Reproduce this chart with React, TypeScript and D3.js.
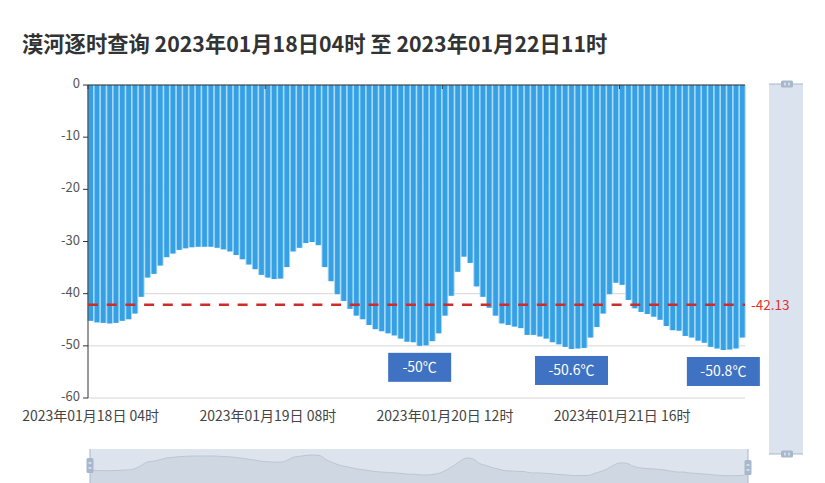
import * as d3 from "d3";
import React from "react";

// 漠河逐时气温 (℃)，2023-01-18 04时 起，每小时一条
const temps: number[] = [
  -45.2, -45.5, -45.6, -45.7, -45.6, -45.2, -44.9, -43.8, -40.6, -36.9,
  -36.2, -34.6, -33.0, -32.3, -31.6, -31.3, -31.1, -31.0, -31.0, -31.0,
  -31.2, -31.5, -31.9, -32.6, -33.4, -34.4, -35.3, -36.4, -36.9, -37.2,
  -37.1, -34.9, -31.9, -31.2, -30.3, -30.1, -30.7, -34.9, -37.6, -40.1,
  -41.4, -42.9, -44.2, -44.9, -46.0, -46.8, -47.2, -47.6, -48.0, -48.6,
  -49.2, -49.3, -50.0, -49.9, -49.1, -47.6, -44.2, -40.4, -35.8, -32.9,
  -34.1, -38.6, -40.6, -42.7, -44.2, -45.7, -46.0, -46.3, -46.6, -47.9,
  -47.9, -48.2, -48.6, -49.3, -49.7, -50.2, -50.6, -50.5, -50.4, -48.4,
  -46.4, -43.8, -40.1, -37.9, -38.3, -41.2, -42.8, -43.5, -43.9, -44.4,
  -45.0, -46.2, -47.0, -47.1, -48.1, -48.4, -49.0, -49.4, -50.2, -50.5,
  -50.8, -50.7, -50.5, -48.4,
];

const startTime = new Date(2023, 0, 18, 4);
const fmtHour = d3.timeFormat("%Y年%m月%d日 %H时");
const categories: string[] = temps.map((_, i) => fmtHour(d3.timeHour.offset(startTime, i)));
const labelEvery = 28;
const yTicks = [0, -10, -20, -30, -40, -50, -60];
const avgValue = -42.13;
const markIndex = [52, 76, 100];
const title = "漠河逐时查询 2023年01月18日04时 至 2023年01月22日11时";

const W = 825;
const H = 483;
const font = "'Noto Sans CJK SC', 'Noto Sans', sans-serif";

const Handle = ({ x, y, vertical }: { x: number; y: number; vertical: boolean }) =>
  vertical ? (
    <g>
      <rect x={x - 3.5} y={y} width={7} height={15} rx={1.5} fill="#a7b7cc" />
      <line x1={x - 1.5} x2={x + 1.5} y1={y + 5} y2={y + 5} stroke="#fff" />
      <line x1={x - 1.5} x2={x + 1.5} y1={y + 10} y2={y + 10} stroke="#fff" />
    </g>
  ) : (
    <g>
      <rect x={x} y={y - 3.5} width={12} height={7} rx={1.5} fill="#a7b7cc" />
      <line x1={x + 4} x2={x + 4} y1={y - 1.5} y2={y + 1.5} stroke="#fff" />
      <line x1={x + 8} x2={x + 8} y1={y - 1.5} y2={y + 1.5} stroke="#fff" />
    </g>
  );

const App: React.FC = () => {
  const x = d3
    .scaleBand<number>()
    .domain(d3.range(temps.length))
    .range([88, 745])
    .paddingInner(0.26)
    .paddingOuter(0.05);
  const step = x.step();
  const y = d3.scaleLinear().domain([-60, 0]).range([398, 85]);

  // 底部 dataZoom 阴影
  const sx = d3.scaleLinear().domain([0, temps.length - 1]).range([90, 748]);
  const sy = d3.scaleLinear().domain([-31, -45]).range([456, 470]);
  const shadowLine = d3
    .line<number>()
    .x((_, i) => sx(i))
    .y((d) => sy(d))
    .curve(d3.curveMonotoneX);
  const shadowArea = d3
    .area<number>()
    .x((_, i) => sx(i))
    .y0(483)
    .y1((d) => sy(d))
    .curve(d3.curveMonotoneX);

  const x0 = x.range()[0];
  const x1 = x.range()[1];

  return (
    <svg
      width={W}
      height={H}
      style={{ position: "absolute", left: 0, top: 0, background: "#fff" }}
      fontFamily={font}
    >
      <text x={22} y={52} fontSize={21.3} fontWeight="bold" fill="#333">
        {title}
      </text>

      {/* 网格线 */}
      {yTicks.map((t) => (
        <line key={t} x1={x0} x2={x1} y1={y(t)} y2={y(t)} stroke="#d6d6d6" />
      ))}

      {/* 柱子：浅色底 + 深色柱身 */}
      {temps.map((v, i) => (
        <g key={i}>
          <rect
            x={(x(i) ?? 0) - 1}
            y={y(0)}
            width={x.bandwidth() + 2}
            height={y(v) - y(0)}
            fill="#a6d8f6"
          />
          <rect x={x(i)} y={y(0)} width={x.bandwidth()} height={y(v) - y(0)} fill="#36a0e5" />
        </g>
      ))}

      {/* y 轴 */}
      <line x1={x0} x2={x0} y1={y(0)} y2={y(-60)} stroke="#333" />
      {yTicks.map((t) => (
        <g key={t}>
          <line x1={x0 - 5} x2={x0} y1={y(t)} y2={y(t)} stroke="#333" />
          <text x={x0 - 8} y={y(t) - 1} dy="0.32em" textAnchor="end" fontSize={13} fill="#555">
            {t}
          </text>
        </g>
      ))}

      {/* x 轴 */}
      <line x1={x0} x2={x1} y1={y(0)} y2={y(0)} stroke="#333" />
      {categories.map((c, i) =>
        i % labelEvery === 0 ? (
          <g key={c}>
            <line x1={x0 + i * step} x2={x0 + i * step} y1={y(0)} y2={y(0) + 4} stroke="#333" />
            <text
              x={(x(i) ?? 0) + x.bandwidth() / 2}
              y={421}
              textAnchor="middle"
              fontSize={14}
              fill="#444"
            >
              {c}
            </text>
          </g>
        ) : null,
      )}

      {/* 平均线 */}
      <line
        x1={x0}
        x2={x1}
        y1={y(avgValue)}
        y2={y(avgValue)}
        stroke="#cc2d2a"
        strokeWidth={2.5}
        strokeDasharray="10 8.7"
      />

      {/* 最低温标注 */}
      {markIndex.map((i) => {
        const label = `${temps[i]}℃`;
        const w = 43 + label.length * 5;
        const cx = (x(i) ?? 0) + x.bandwidth() / 2;
        const top = y(temps[i]) + 7;
        return (
          <g key={i}>
            <rect x={cx - w / 2} y={top} width={w} height={29} fill="#3f72c2" />
            <text x={cx} y={top + 14.5} dy="0.35em" textAnchor="middle" fontSize={14} fill="#fff">
              {label}
            </text>
          </g>
        );
      })}

      {/* 底部 dataZoom */}
      <rect x={90} y={449} width={658} height={40} fill="#dde4ed" />
      <path d={shadowArea(temps) ?? ""} fill="#cfd8e2" />
      <path d={shadowLine(temps) ?? ""} fill="none" stroke="#bcc6d3" />
      <line x1={90} x2={90} y1={449} y2={483} stroke="#a7b7cc" />
      <line x1={748} x2={748} y1={449} y2={483} stroke="#a7b7cc" />
      <Handle x={90} y={458} vertical />
      <Handle x={748} y={460} vertical />

      {/* 右侧 dataZoom */}
      <rect x={769} y={84} width={34} height={370} fill="#dbe3ee" />
      <line x1={769} x2={803} y1={84} y2={84} stroke="#a7b7cc" />
      <line x1={769} x2={803} y1={454} y2={454} stroke="#a7b7cc" />
      <Handle x={781} y={84} vertical={false} />
      <Handle x={781} y={454} vertical={false} />

      {/* 平均线标签（压在滑块上） */}
      <text x={x1 + 6} y={y(avgValue)} dy="0.35em" fontSize={13.5} fill="#e0302c">
        {avgValue}
      </text>
    </svg>
  );
};

export default App;
